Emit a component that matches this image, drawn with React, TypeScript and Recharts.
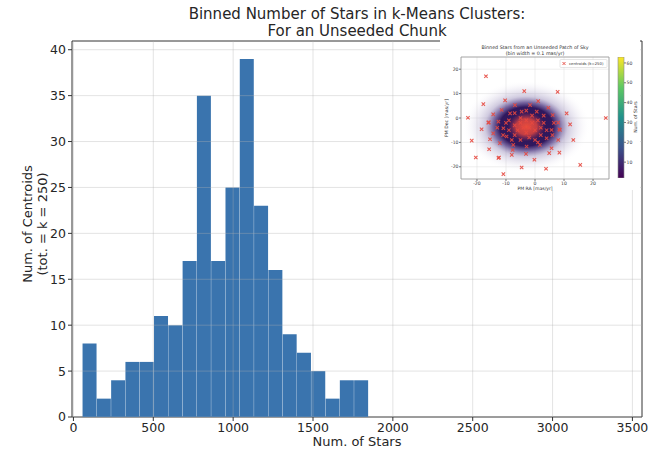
import React from "react";
import {
  Bar,
  BarChart,
  CartesianGrid,
  ComposedChart,
  ReferenceArea,
  ReferenceLine,
  Scatter,
  ScatterChart,
  XAxis,
  YAxis
} from "recharts";

// histogram of stars per k-means cluster (k = 250)
const binCenters = [
  101.8, 191.3, 280.8, 370.3, 459.8, 549.3, 638.8, 728.3, 817.8, 907.3,
  996.8, 1086.3, 1175.8, 1265.3, 1354.8, 1444.3, 1533.8, 1623.3, 1712.8, 1802.3
];
const centroidCounts = [8, 2, 4, 6, 6, 11, 10, 17, 35, 17, 25, 39, 23, 16, 9, 7, 5, 2, 4, 4];
const starTicks = [0, 500, 1000, 1500, 2000, 2500, 3000, 3500];
const countTicks = [0, 5, 10, 15, 20, 25, 30, 35, 40];

// inset: proper motion sky patch with centroids
const pmTicks = [-20, -10, 0, 10, 20];
const centroidRA = [
  -16.9, -3.7, 7.8, -17.8, -10.3, 1.1, -23.1, 24.4, 10.9, 12.1, -18.4, -21.8, -20.4, -12.4,
  -10.9, -4.6, -0.2, 3.8, 15.6, 13.2, 8.0, 8.4, 4.9, -15.9, -15.5, -15.8, -7.7, -8.0, -3.1,
  8.4, -6.9, -1.7, 4.6, -14.4, -11.5, -8.6, -4.6, 0.6, 6.1, -16.1, -12.6, 8.0, -10.9, 5.7,
  8.6, -14.4, -9.8, 4.0, -12.1, -7.5, -2.9, 1.7, 5.7, -12.6, -9.0, -7.0, -5.0, -3.0, -1.0,
  1.0, 3.0, 4.0, 2.0, 0.0, -2.0, -5.0, -7.0, -9.0, -6.0, -4.0, -2.0, 0.0, 2.0, -1.0, -3.0,
  -5.0, -8.0, -10.0, 6.0, 3.0, -7.0, 1.0, -3.0, -11.0, 6.5, -13.0
];
const centroidDec = [
  17.1, 11.0, 10.7, 5.7, 7.2, 6.9, 0.1, 0.0, 1.9, -2.6, -4.6, -9.3, -16.2, -16.2, -23.0,
  -20.3, -17.1, -20.8, -19.2, -9.0, -9.0, -14.2, -14.4, -1.8, -8.7, -12.8, -13.1, -15.1,
  -14.7, -4.6, 5.3, 5.3, 4.2, 1.5, 3.3, 1.9, 2.6, 2.6, 1.2, -1.9, -1.5, -1.9, -4.2, -4.9,
  -4.9, -6.3, -7.6, -8.3, -10.3, -11.0, -11.7, -11.0, -12.4, -16.4, -1.0, -3.0, 0.0, -1.0,
  1.0, -1.0, -2.0, -5.0, -7.0, -9.0, -8.0, -9.0, -7.0, -5.0, -5.0, -4.0, -4.0, -5.0, -4.0,
  -2.0, -6.0, -2.0, -9.0, -2.0, -7.0, 1.0, 2.0, -10.0, 3.0, -7.0, -2.0, -4.0
];
const cloudRA = [-3.0, -2.9];
const cloudDec = [-3.5, -3.6];
const cloudRadiusRA = [22, 6.5];
const cloudRadiusDec = [19, 6];
const cloudFill = ["url(#haze)", "url(#core)"];
const colorbarRange: [number, number] = [2, 63];
const colorbarTicks = [10, 20, 30, 40, 50, 60];

const bins = binCenters.map((x, i) => ({ x, count: centroidCounts[i] }));
const centroids = centroidRA.map((ra, i) => ({ ra, dec: centroidDec[i] }));
const cloud = cloudRA.map((ra, i) => ({
  ra,
  dec: cloudDec[i],
  rx: cloudRadiusRA[i],
  ry: cloudRadiusDec[i],
  fill: cloudFill[i]
}));
const colorbarData = [{ name: "stars", range: colorbarRange }];

const FONT = "'DejaVu Sans', sans-serif";
const INK = "#262626";

// inset plot box (pixels) used to turn radii in mas/yr into pixels
const INSET_W = 200;
const INSET_H = 150;
const INSET_MARGIN = { top: 17, right: 31, bottom: 0, left: 0 };
const INSET_Y_W = 21;
const INSET_X_H = 11;
const RA_DOMAIN: [number, number] = [-25.5, 25.5];
const DEC_DOMAIN: [number, number] = [-25, 25];
const pxPerRA = (INSET_W - INSET_MARGIN.right - INSET_Y_W) / (RA_DOMAIN[1] - RA_DOMAIN[0]);
const pxPerDec = (INSET_H - INSET_MARGIN.top - INSET_X_H) / (DEC_DOMAIN[1] - DEC_DOMAIN[0]);

const CloudShape = (props: any) => {
  const { cx, cy, payload } = props;
  return <ellipse cx={cx} cy={cy} rx={payload.rx * pxPerRA} ry={payload.ry * pxPerDec} fill={payload.fill} />;
};

const CrossShape = (props: any) => {
  const { cx, cy } = props;
  const s = 1.7;
  return (
    <path
      d={`M${cx - s},${cy - s}L${cx + s},${cy + s}M${cx - s},${cy + s}L${cx + s},${cy - s}`}
      stroke="#e5483f"
      strokeOpacity={0.9}
      strokeWidth={1.05}
      fill="none"
    />
  );
};

const insetTick = { fontSize: 4.6, fill: "#444", fontFamily: FONT };

function SkyInset() {
  return (
    <div style={{ position: "absolute", left: 440, top: 40, width: INSET_W, height: INSET_H, background: "#fff" }}>
      <ScatterChart width={INSET_W} height={INSET_H} margin={INSET_MARGIN}>
        <defs>
          <radialGradient id="haze" cx="50%" cy="50%" r="50%">
            <stop offset="0%" stopColor="#2e1656" stopOpacity={1} />
            <stop offset="42%" stopColor="#30185e" stopOpacity={1} />
            <stop offset="52%" stopColor="#4b3480" stopOpacity={0.75} />
            <stop offset="65%" stopColor="#8a7cb0" stopOpacity={0.4} />
            <stop offset="82%" stopColor="#c4bcd8" stopOpacity={0.22} />
            <stop offset="100%" stopColor="#ffffff" stopOpacity={0} />
          </radialGradient>
          <radialGradient id="core" cx="50%" cy="50%" r="50%">
            <stop offset="0%" stopColor="#ea4d3c" stopOpacity={1} />
            <stop offset="55%" stopColor="#dc4540" stopOpacity={0.85} />
            <stop offset="100%" stopColor="#9a2f55" stopOpacity={0} />
          </radialGradient>
        </defs>
        <CartesianGrid stroke="#dcdcdc" strokeWidth={0.5} />
        <XAxis
          type="number"
          dataKey="ra"
          domain={RA_DOMAIN}
          ticks={pmTicks}
          allowDataOverflow
          height={INSET_X_H}
          tick={insetTick}
          tickSize={2}
          tickMargin={0.5}
          axisLine={false}
          stroke="#777"
        />
        <YAxis
          type="number"
          dataKey="dec"
          domain={DEC_DOMAIN}
          ticks={pmTicks}
          allowDataOverflow
          width={INSET_Y_W}
          tick={insetTick}
          tickSize={2}
          tickMargin={0.5}
          axisLine={false}
          stroke="#777"
        />
        <Scatter data={cloud} shape={CloudShape} isAnimationActive={false} />
        <Scatter data={centroids} shape={CrossShape} isAnimationActive={false} />
        <ReferenceArea
          x1={RA_DOMAIN[0]}
          x2={RA_DOMAIN[1]}
          y1={DEC_DOMAIN[0]}
          y2={DEC_DOMAIN[1]}
          fill="none"
          stroke="#9a9a9a"
          strokeWidth={0.8}
        />
      </ScatterChart>
    </div>
  );
}

function Colorbar() {
  return (
    <div style={{ position: "absolute", left: 610, top: 40, width: 30, height: INSET_H }}>
      <BarChart
        width={30}
        height={INSET_H}
        data={colorbarData}
        margin={{ top: 17, right: 0, bottom: 12, left: 8 }}
        barCategoryGap={0}
      >
        <defs>
          <linearGradient id="viridis" x1="0" y1="1" x2="0" y2="0">
            <stop offset="0%" stopColor="#440154" />
            <stop offset="25%" stopColor="#3b528b" />
            <stop offset="50%" stopColor="#21918c" />
            <stop offset="75%" stopColor="#5ec962" />
            <stop offset="100%" stopColor="#fde725" />
          </linearGradient>
        </defs>
        <XAxis dataKey="name" hide />
        <YAxis
          orientation="right"
          type="number"
          domain={colorbarRange}
          ticks={colorbarTicks}
          allowDataOverflow
          width={16}
          tick={insetTick}
          tickSize={2}
          tickMargin={0.5}
          axisLine={false}
          stroke="#777"
        />
        <Bar dataKey="range" fill="url(#viridis)" stroke="#8a8a8a" strokeWidth={0.6} isAnimationActive={false} />
      </BarChart>
    </div>
  );
}

export default function App() {
  return (
    <div style={{ position: "absolute", left: 0, top: 0, width: 650, height: 455, background: "#fff", fontFamily: FONT }}>
      <ComposedChart
        width={650}
        height={455}
        data={bins}
        margin={{ top: 41, right: 8, bottom: 0, left: 0 }}
        barCategoryGap={0}
        barGap={0}
      >
        <XAxis
          type="number"
          dataKey="x"
          domain={[-9, 3560]}
          ticks={starTicks}
          allowDataOverflow
          height={38}
          tick={{ fontSize: 12.5, fill: INK, fontFamily: FONT }}
          tickSize={4}
          tickMargin={2}
          stroke="#333"
          axisLine={false}
        />
        <YAxis
          type="number"
          domain={[0, 40.95]}
          ticks={countTicks}
          allowDataOverflow
          width={72}
          tick={{ fontSize: 12.5, fill: INK, fontFamily: FONT }}
          tickSize={4}
          tickMargin={2}
          stroke="#333"
          axisLine={false}
        />
        <Bar dataKey="count" fill="#3a74ae" isAnimationActive={false} />
        {starTicks.map((t) => (
          <ReferenceLine key={`gx${t}`} x={t} stroke="#b0b0b0" strokeOpacity={0.45} strokeWidth={0.8} />
        ))}
        {countTicks.map((t) => (
          <ReferenceLine key={`gy${t}`} y={t} stroke="#b0b0b0" strokeOpacity={0.45} strokeWidth={0.8} />
        ))}
        <ReferenceArea x1={-9} x2={3560} y1={0} y2={40.95} fill="none" stroke="#333" strokeWidth={1} />
      </ComposedChart>

      <SkyInset />
      <Colorbar />

      <svg width={650} height={455} style={{ position: "absolute", left: 0, top: 0, pointerEvents: "none" }}>
        <g fontFamily={FONT} fill={INK} textAnchor="middle">
          <text x={357} y={19} fontSize={15}>Binned Number of Stars in k-Means Clusters:</text>
          <text x={357} y={36} fontSize={15}>For an Unseeded Chunk</text>
          <text x={357} y={446} fontSize={13}>Num. of Stars</text>
          <text transform="translate(32,224) rotate(-90)" fontSize={13}>Num. of Centroids</text>
          <text transform="translate(47,224) rotate(-90)" fontSize={13}>(tot. = k = 250)</text>
        </g>
        <g fontFamily={FONT} fill="#333" textAnchor="middle">
          <text x={535} y={49} fontSize={4.8}>Binned Stars from an Unseeded Patch of Sky</text>
          <text x={535} y={54.5} fontSize={4.8}>(bin width = 0.1 mas/yr)</text>
          <text x={535} y={190} fontSize={4.6}>PM RA [mas/yr]</text>
          <text transform="translate(448,118) rotate(-90)" fontSize={4.6}>PM Dec [mas/yr]</text>
          <text transform="translate(637,117) rotate(-90)" fontSize={4.6}>Num. of Stars</text>
        </g>
        <rect x={560} y={59.5} width={47} height={8} rx={1} fill="#fff" fillOpacity={0.85} stroke="#ccc" strokeWidth={0.5} />
        <path d="M562.5,62L565.5,65M562.5,65L565.5,62" stroke="#e5483f" strokeWidth={0.9} fill="none" />
        <text x={569} y={64.9} fontSize={3.8} fontFamily={FONT} fill="#333">centroids (k=250)</text>
      </svg>
    </div>
  );
}
